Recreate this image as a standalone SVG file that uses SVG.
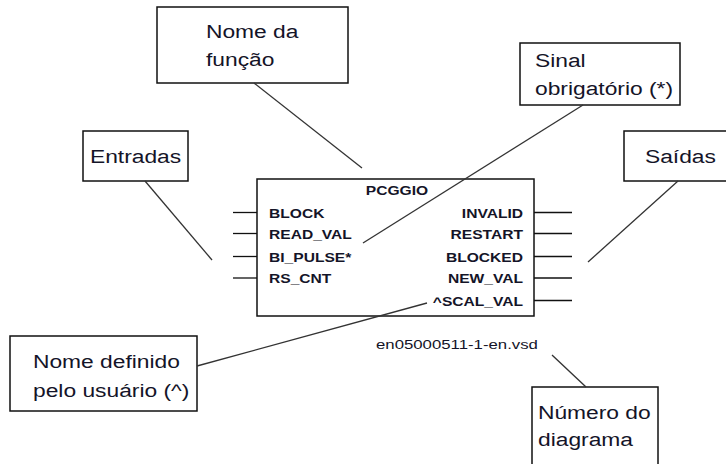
<svg xmlns="http://www.w3.org/2000/svg" width="726" height="464" viewBox="0 0 726 464">
<style>
.box{fill:#fff;stroke:#111;stroke-width:1.5}
.lbl{font-family:"Liberation Sans",Arial,sans-serif;font-size:19px;fill:#141428}
.pin{font-family:"Liberation Sans",Arial,sans-serif;font-size:13px;font-weight:bold;fill:#141428}
.fn{font-family:"Liberation Sans",Arial,sans-serif;font-size:13px;fill:#141428}
.con{stroke:#333;stroke-width:1.3;fill:none}
.pl{stroke:#111;stroke-width:1.3}
</style>
<rect width="726" height="464" fill="#fff"/>
<g id="nome-funcao">
<rect class="box" x="157" y="7" width="191" height="76"/>
<text class="lbl" transform="translate(206,38) scale(1.2 1)">Nome da</text>
<text class="lbl" transform="translate(206,66) scale(1.2 1)">função</text>
</g>
<g id="sinal">
<rect class="box" x="520" y="43" width="160" height="62"/>
<text class="lbl" transform="translate(535,67) scale(1.2 1)">Sinal</text>
<text class="lbl" transform="translate(535,95) scale(1.2 1)">obrigatório (*)</text>
</g>
<g id="entradas">
<rect class="box" x="83" y="131" width="105" height="50"/>
<text class="lbl" transform="translate(90,163) scale(1.2 1)">Entradas</text>
</g>
<g id="saidas">
<rect class="box" x="624" y="131" width="110" height="50"/>
<text class="lbl" transform="translate(645,163) scale(1.2 1)">Saídas</text>
</g>
<g id="pcggio">
<rect class="box" x="257" y="179" width="277" height="137"/>
<line class="pl" x1="233" y1="212.5" x2="257" y2="212.5"/>
<line class="pl" x1="233" y1="233.5" x2="257" y2="233.5"/>
<line class="pl" x1="233" y1="256.5" x2="257" y2="256.5"/>
<line class="pl" x1="233" y1="278" x2="257" y2="278"/>
<line class="pl" x1="534" y1="212.5" x2="572" y2="212.5"/>
<line class="pl" x1="534" y1="233.5" x2="572" y2="233.5"/>
<line class="pl" x1="534" y1="256.5" x2="572" y2="256.5"/>
<line class="pl" x1="534" y1="278" x2="572" y2="278"/>
<line class="pl" x1="534" y1="300.5" x2="572" y2="300.5"/>
<text class="pin" text-anchor="middle" transform="translate(397,194.5) scale(1.2 1)">PCGGIO</text>
<text class="pin" transform="translate(269,217.5) scale(1.2 1)">BLOCK</text>
<text class="pin" transform="translate(269,238.5) scale(1.2 1)">READ_VAL</text>
<text class="pin" transform="translate(269,261.5) scale(1.2 1)">BI_PULSE*</text>
<text class="pin" transform="translate(269,283) scale(1.2 1)">RS_CNT</text>
<text class="pin" text-anchor="end" transform="translate(523,217.5) scale(1.2 1)">INVALID</text>
<text class="pin" text-anchor="end" transform="translate(523,238.5) scale(1.2 1)">RESTART</text>
<text class="pin" text-anchor="end" transform="translate(523,261.5) scale(1.2 1)">BLOCKED</text>
<text class="pin" text-anchor="end" transform="translate(523,283) scale(1.2 1)">NEW_VAL</text>
<text class="pin" text-anchor="end" transform="translate(523,305.5) scale(1.2 1)">^SCAL_VAL</text>
</g>
<g id="nome-definido">
<rect class="box" x="10" y="336" width="187" height="75"/>
<text class="lbl" transform="translate(33,368) scale(1.2 1)">Nome definido</text>
<text class="lbl" transform="translate(33,397) scale(1.2 1)">pelo usuário (^)</text>
</g>
<g id="arquivo">
<text class="fn" transform="translate(376,349) scale(1.29 1)">en05000511-1-en.vsd</text>
</g>
<g id="numero-diagrama">
<rect class="box" x="532" y="387" width="126" height="90"/>
<text class="lbl" transform="translate(538,419) scale(1.2 1)">Número do</text>
<text class="lbl" transform="translate(538,446) scale(1.2 1)">diagrama</text>
</g>
<g id="connectors">
<line class="con" x1="254" y1="83" x2="362" y2="168"/>
<line class="con" x1="583" y1="105" x2="363" y2="243"/>
<line class="con" x1="145" y1="181" x2="212" y2="260"/>
<line class="con" x1="678" y1="181" x2="588" y2="262"/>
<line class="con" x1="197" y1="366" x2="427" y2="303"/>
<line class="con" x1="552" y1="355" x2="586" y2="387"/>
</g>
</svg>
